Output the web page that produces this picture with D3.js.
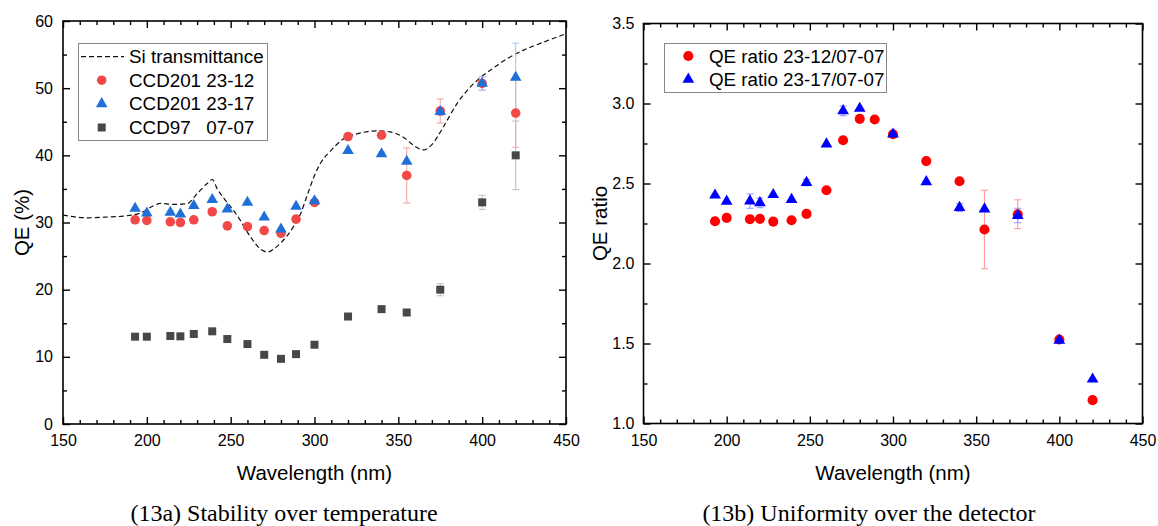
<!DOCTYPE html>
<html><head><meta charset="utf-8">
<script src="https://cdn.jsdelivr.net/npm/d3@7"></script>
<style>
body{margin:0;background:#fff}
svg{display:block}
text{font-family:"Liberation Sans",Arial,sans-serif}
text.cap{font-family:"Liberation Serif","Times New Roman",serif}
</style>
</head><body>
<svg id="c" width="1158" height="526"></svg>
<script>
// ---------- data ----------
const wavelengths = [193,200,214,220,228,239,248,260,270,280,289,300,320,340,355,375,400,420];
// Panel (13a): QE (%)
const qeCCD201_2312    = [30.4,30.3,30.1,30.0,30.4,31.6,29.5,29.4,28.8,28.4,30.5,33.0,42.8,43.0,37.0,46.6,50.7,46.3];
const qeCCD201_2312Err = [0,0,0,0,0,0,0,0,0,0,0,0,0,0,4.1,1.8,1.0,5.1];
const qeCCD201_2317    = [32.1,31.4,31.5,31.25,32.5,33.4,32.0,33.0,30.8,29.0,32.4,33.2,40.7,40.2,39.1,46.5,50.7,51.6];
const qeCCD201_2317Err = [0,0,0.3,0,0,0,0,0,0,0,0,0,0,0.3,0,0.5,1.0,5.1];
const qeCCD97_0707     = [13.0,13.0,13.1,13.05,13.4,13.8,12.65,11.9,10.3,9.7,10.4,11.8,16.0,17.1,16.6,20.0,33.0,40.0];
const qeCCD97_0707Err  = [0,0,0,0,0,0,0,0,0,0,0,0,0,0,0,0.9,1.05,5.1];
// Si transmittance curve
const siWavelength = [150,158,165,175,186,196,204,208,216,224,230,236,239,242,246,254,262,268,272,276,280,287,292,296,300,304,309,317,327,337,345,353,359,365,370,377,385,395,405,415,425,435,450];
const siTransmit   = [31.1,30.8,30.7,30.8,30.95,31.4,32.5,32.85,32.7,32.8,34.3,35.8,36.4,35.0,33.6,31.0,27.8,26.0,25.6,26.1,27.0,29.2,31.5,34.3,37.0,39.0,40.5,42.4,43.3,43.65,43.5,42.7,41.5,40.8,41.6,44.3,47.7,50.7,52.7,54.4,55.7,56.7,58.1];
// Panel (13b): QE ratio
const ratio2312    = [2.264,2.285,2.277,2.279,2.262,2.27,2.31,2.458,2.77,2.904,2.90,2.808,2.64,2.514,2.2125,2.308,1.525,1.146];
const ratio2312Err = [0,0,0,0,0,0,0,0,0,0,0,0,0,0,0.245,0.09,0,0];
const ratio2317    = [2.427,2.389,2.39,2.379,2.43,2.40,2.506,2.746,2.954,2.969,null,2.808,2.51,2.35,2.34,2.30,1.52,1.277];
const ratio2317Err = [0,0,0.045,0.03,0,0,0.02,0,0.03,0,0,0,0,0.025,0,0.045,0,0];
// ticks
const xTicks = [150,200,250,300,350,400,450];
const qeTicks = [0,10,20,30,40,50,60];
const ratioTicks = [1.0,1.5,2.0,2.5,3.0,3.5];

// ---------- drawing ----------
const svg = d3.select("#c");
const FONT = '"Liberation Sans",Arial,sans-serif';

function panel(cfg){
  const x = d3.scaleLinear().domain([150,450]).range(cfg.xr);
  const y = d3.scaleLinear().domain(cfg.yd).range(cfg.yr);
  const g = svg.append("g");
  const [L,R] = cfg.xr, [B,T] = cfg.yr;
  const xMinor = d3.range(150,451,10).filter(v=>v%50!==0);
  const yMinor = cfg.yMinor;
  function styleAxis(a){ a.select(".domain").remove(); a.selectAll("line").attr("stroke","#000").attr("stroke-width",1.4);
    a.selectAll("text").attr("font-family",FONT).attr("font-size",16).attr("fill","#000"); return a;}
  styleAxis(g.append("g").attr("transform",`translate(0,${B})`).call(d3.axisBottom(x).tickValues(xTicks).tickSize(-7).tickPadding(11).tickFormat(d3.format("d"))));
  styleAxis(g.append("g").attr("transform",`translate(0,${B})`).call(d3.axisBottom(x).tickValues(xMinor).tickSize(-4).tickFormat("")));
  styleAxis(g.append("g").attr("transform",`translate(0,${T})`).call(d3.axisTop(x).tickValues(xTicks).tickSize(-7).tickFormat("")));
  styleAxis(g.append("g").attr("transform",`translate(0,${T})`).call(d3.axisTop(x).tickValues(xMinor).tickSize(-4).tickFormat("")));
  styleAxis(g.append("g").attr("transform",`translate(${L},0)`).call(d3.axisLeft(y).tickValues(cfg.yTicks).tickSize(-7).tickPadding(cfg.yPad).tickFormat(cfg.yFmt)));
  styleAxis(g.append("g").attr("transform",`translate(${L},0)`).call(d3.axisLeft(y).tickValues(yMinor).tickSize(-4).tickFormat("")));
  styleAxis(g.append("g").attr("transform",`translate(${R},0)`).call(d3.axisRight(y).tickValues(cfg.yTicks).tickSize(-7).tickFormat("")));
  styleAxis(g.append("g").attr("transform",`translate(${R},0)`).call(d3.axisRight(y).tickValues(yMinor).tickSize(-4).tickFormat("")));
  g.append("rect").attr("x",L).attr("y",T).attr("width",R-L).attr("height",B-T)
    .attr("fill","none").attr("stroke","#000").attr("stroke-width",1.6);
  // titles
  g.append("text").attr("x",(L+R)/2).attr("y",480).attr("text-anchor","middle")
    .attr("font-size",20.5).text("Wavelength (nm)");
  g.append("text").attr("transform",`translate(${cfg.ytx},${(T+B)/2}) rotate(-90)`).attr("text-anchor","middle")
    .attr("font-size",20.5).text(cfg.yTitle);
  g.append("text").attr("class","cap").attr("x",cfg.capX).attr("y",521).attr("text-anchor","middle")
    .attr("font-size",24).text(cfg.caption);
  return {g,x,y};
}

function errorBars(g,x,y,xs,vs,es,color){
  xs.forEach((w,i)=>{
    const v=vs[i], e=es[i];
    if(v==null||!e) return;
    const cx=x(w), yt=y(v+e), yb=y(v-e);
    g.append("line").attr("x1",cx).attr("x2",cx).attr("y1",yt).attr("y2",yb).attr("stroke",color).attr("stroke-width",1.1);
    [yt,yb].forEach(yy=>g.append("line").attr("x1",cx-3.5).attr("x2",cx+3.5).attr("y1",yy).attr("y2",yy).attr("stroke",color).attr("stroke-width",1.1));
  });
}
function markers(g,x,y,xs,vs,type,size,color){
  const sym=d3.symbol().type(type).size(size);
  xs.forEach((w,i)=>{
    const v=vs[i]; if(v==null) return;
    g.append("path").attr("d",sym()).attr("transform",`translate(${x(w)},${y(v)})`).attr("fill",color);
  });
}

// ----- Panel a -----
{
  const {g,x,y} = panel({xr:[63,566], yr:[424,21], yd:[0,60], yTicks:qeTicks, yMinor:[5,15,25,35,45,55],
    yPad:10, yFmt:d3.format("d"), yTitle:"QE (%)", ytx:29, capX:284, caption:"(13a) Stability over temperature"});
  const RED="#f24848", BLUE="#1f6fd9", GRAY="#474747";
  g.append("path").datum(siWavelength.map((w,i)=>[w,siTransmit[i]]))
    .attr("d",d3.line().x(d=>x(d[0])).y(d=>y(d[1])).curve(d3.curveMonotoneX))
    .attr("fill","none").attr("stroke","#111").attr("stroke-width",1.2).attr("stroke-dasharray","5,3");
  errorBars(g,x,y,wavelengths,qeCCD97_0707,qeCCD97_0707Err,"#c4c4c4");
  errorBars(g,x,y,wavelengths,qeCCD201_2312,qeCCD201_2312Err,"#f7a6a6");
  errorBars(g,x,y,wavelengths,qeCCD201_2317,qeCCD201_2317Err,"#aac6f2");
  markers(g,x,y,wavelengths,qeCCD201_2312,d3.symbolCircle,72,RED);
  markers(g,x,y,wavelengths,qeCCD201_2317,d3.symbolTriangle,58,BLUE);
  markers(g,x,y,wavelengths,qeCCD97_0707,d3.symbolSquare,64,GRAY);
  // legend
  const lg=g.append("g");
  lg.append("rect").attr("x",78.5).attr("y",43.5).attr("width",189).attr("height",97)
    .attr("fill","#fff").attr("stroke","#888").attr("stroke-width",1);
  const rows=[56.7,80.2,103.8,127.5];
  lg.append("line").attr("x1",81).attr("x2",124).attr("y1",rows[0]).attr("y2",rows[0])
    .attr("stroke","#111").attr("stroke-width",1.2).attr("stroke-dasharray","5,3");
  lg.append("path").attr("d",d3.symbol().type(d3.symbolCircle).size(72)()).attr("transform",`translate(101.7,${rows[1]})`).attr("fill",RED);
  lg.append("path").attr("d",d3.symbol().type(d3.symbolTriangle).size(58)()).attr("transform",`translate(101.7,${rows[2]})`).attr("fill",BLUE);
  lg.append("path").attr("d",d3.symbol().type(d3.symbolSquare).size(64)()).attr("transform",`translate(101.7,${rows[3]})`).attr("fill",GRAY);
  const labels=["Si transmittance","CCD201 23-12","CCD201 23-17","CCD97\u00a0\u00a0\u00a007-07"];
  labels.forEach((t,i)=>lg.append("text").attr("x",129).attr("y",rows[i]+6.5).attr("font-size",18.8).text(t));
}

// ----- Panel b -----
{
  const {g,x,y} = panel({xr:[643.5,1142.5], yr:[423.5,23.5], yd:[1.0,3.5], yTicks:ratioTicks, yMinor:[1.25,1.75,2.25,2.75,3.25],
    yPad:9, yFmt:d3.format(".1f"), yTitle:"QE ratio", ytx:607, capX:869, caption:"(13b) Uniformity over the detector"});
  const RED="#ff0000", BLUE="#0000ff";
  errorBars(g,x,y,wavelengths,ratio2312,ratio2312Err,"#ff9a9a");
  errorBars(g,x,y,wavelengths,ratio2317,ratio2317Err,"#9a9aff");
  markers(g,x,y,wavelengths,ratio2312,d3.symbolCircle,80,RED);
  markers(g,x,y,wavelengths,ratio2317,d3.symbolTriangle,60,BLUE);
  const lg=g.append("g");
  lg.append("rect").attr("x",664.5).attr("y",43.5).attr("width",222).attr("height",49)
    .attr("fill","#fff").attr("stroke","#888").attr("stroke-width",1);
  const rows=[56,79.3];
  lg.append("path").attr("d",d3.symbol().type(d3.symbolCircle).size(80)()).attr("transform",`translate(688.3,${rows[0]})`).attr("fill",RED);
  lg.append("path").attr("d",d3.symbol().type(d3.symbolTriangle).size(60)()).attr("transform",`translate(688.3,${rows[1]})`).attr("fill",BLUE);
  ["QE ratio 23-12/07-07","QE ratio 23-17/07-07"].forEach((t,i)=>lg.append("text").attr("x",709).attr("y",rows[i]+6.5).attr("font-size",18.8).text(t));
}
</script>
</body></html>
